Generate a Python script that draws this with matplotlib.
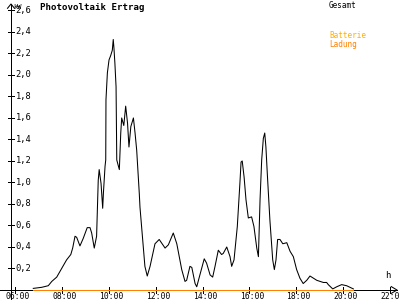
import matplotlib
matplotlib.use('Agg')
import matplotlib.pyplot as plt

# hours of day and power in kW
gesamt_h = [6.78, 7.14, 7.42, 7.57, 7.78, 7.99, 8.20, 8.38, 8.46, 8.56, 8.63, 8.77,
            8.91, 9.08, 9.20, 9.27, 9.38, 9.48, 9.55, 9.59, 9.67, 9.74, 9.77, 9.84,
            9.87, 9.88, 9.94, 10.01, 10.08, 10.15, 10.19, 10.22, 10.26, 10.31, 10.34,
            10.40, 10.45, 10.51, 10.55, 10.64, 10.72, 10.80, 10.86, 10.94, 11.05, 11.12,
            11.19, 11.30, 11.33, 11.54, 11.64, 11.76, 11.97, 12.15, 12.40, 12.54, 12.75,
            12.90, 13.11, 13.25, 13.32, 13.46, 13.54, 13.68, 13.75, 13.86, 14.07, 14.17,
            14.32, 14.43, 14.53, 14.67, 14.81, 14.88, 15.03, 15.17, 15.24, 15.34, 15.48,
            15.59, 15.64, 15.69, 15.77, 15.85, 15.95, 16.09, 16.19, 16.31, 16.38, 16.45,
            16.52, 16.59, 16.65, 16.70, 16.76, 16.87, 16.99, 17.06, 17.13, 17.20, 17.30,
            17.42, 17.59, 17.73, 17.87, 18.01, 18.15, 18.29, 18.44, 18.58, 18.87, 19.15,
            19.29, 19.36, 19.55, 19.72, 19.93, 20.14, 20.43]
gesamt_kw = [0.015, 0.025, 0.04, 0.08, 0.12, 0.20, 0.28, 0.33, 0.39, 0.50, 0.49, 0.41,
             0.48, 0.58, 0.58, 0.53, 0.39, 0.50, 1.02, 1.12, 0.99, 0.76, 0.90, 1.15,
             1.21, 1.77, 2.02, 2.14, 2.18, 2.23, 2.33, 2.25, 2.11, 1.89, 1.21,
             1.16, 1.12, 1.46, 1.60, 1.53, 1.71, 1.55, 1.33, 1.52, 1.60, 1.46,
             1.30, 0.90, 0.77, 0.22, 0.13, 0.22, 0.43, 0.47, 0.39, 0.42, 0.53,
             0.43, 0.19, 0.08, 0.09, 0.22, 0.21, 0.06, 0.03, 0.12, 0.29, 0.25,
             0.14, 0.12, 0.22, 0.37, 0.33, 0.34, 0.40, 0.31, 0.22, 0.28, 0.59,
             0.99, 1.19, 1.20, 1.05, 0.84, 0.67, 0.68, 0.59, 0.39, 0.31, 0.84,
             1.21, 1.41, 1.46, 1.33, 1.08, 0.65, 0.28, 0.19, 0.28, 0.47, 0.47,
             0.43, 0.44, 0.36, 0.31, 0.19, 0.11, 0.06, 0.09, 0.13, 0.09, 0.07,
             0.07, 0.05, 0.01, 0.03, 0.05, 0.04, 0.01]
ladung_h = [6.78, 20.43]
ladung_kw = [0.0, 0.0]

x_ticks = [6, 8, 10, 12, 14, 16, 18, 20, 22]
x_labels = ['06:00', '08:00', '10:00', '12:00', '14:00', '16:00', '18:00', '20:00', '22:00']
y_ticks = [0.2, 0.4, 0.6, 0.8, 1.0, 1.2, 1.4, 1.6, 1.8, 2.0, 2.2, 2.4, 2.6]
y_labels = ['0,2', '0,4', '0,6', '0,8', '1,0', '1,2', '1,4', '1,6', '1,8', '2,0', '2,2', '2,4', '2,6']

mono = 'DejaVu Sans Mono'
LW = 0.7   # crisp one-pixel lines
CLW = 0.75 # curve

fig = plt.figure(figsize=(4, 3), dpi=100)
fig.patch.set_facecolor('white')
ax = fig.add_axes([11 / 400, 10 / 300, 386 / 400, 286 / 300])
ax.set_xlim(5.83, 22.29)
ax.set_ylim(0, 2.66)
ax.axis('off')

# axes lines, a bit past the origin like the original
ax.plot([-0.03, 1.0], [0, 0], transform=ax.transAxes, color='black', lw=LW,
        clip_on=False, antialiased=False)
ax.plot([0, 0], [-0.035, 1.0], transform=ax.transAxes, color='black', lw=LW,
        clip_on=False, antialiased=False)
ax.plot([0.985, 1.0, 0.985], [0.012, 0, -0.012], transform=ax.transAxes,
        color='black', lw=CLW, clip_on=False)
ax.plot([-0.009, 0, 0.009], [0.985, 1.0, 0.985], transform=ax.transAxes,
        color='black', lw=CLW, clip_on=False)

# ticks and labels
xt = ax.get_xaxis_transform()
yt = ax.get_yaxis_transform()
for h, lab in zip(x_ticks, x_labels):
    ax.plot([h, h], [-0.01, 0.01], transform=xt, color='black', lw=LW,
            clip_on=False, antialiased=False)
    ax.text(h + 0.1, -0.021, lab, transform=xt, ha='center', va='center',
            fontsize=5.8, family=mono, color='black')
for v, lab in zip(y_ticks, y_labels):
    ax.plot([-0.008, 0.008], [v, v], transform=yt, color='black', lw=LW,
            clip_on=False, antialiased=False)
    ax.text(0.012, v, lab, transform=yt, ha='left', va='center',
            fontsize=6.3, family=mono, color='black')
ax.text(0.006, 1.0, 'kW', transform=ax.transAxes, ha='left', va='top',
        fontsize=5, family=mono, color='black')
ax.text(0.975, 0.035, 'h', transform=ax.transAxes, ha='center', va='bottom',
        fontsize=6.5, family=mono, color='black')

# series
ax.plot(ladung_h, ladung_kw, color='#ff8000', lw=LW, clip_on=False,
        antialiased=False, zorder=3)
ax.plot(gesamt_h, gesamt_kw, color='black', lw=CLW, zorder=2)

# title and legend
fig.text(40 / 400, 1 - 7 / 300, 'Photovoltaik Ertrag', ha='left', va='center',
         fontsize=6.6, family=mono, weight='bold', color='black')
fig.text(329 / 400, 1 - 5 / 300, 'Gesamt', ha='left', va='center',
         fontsize=5.5, family=mono, color='black')
fig.text(329 / 400, 1 - 36 / 300, 'Batterie', ha='left', va='center',
         fontsize=5.5, family=mono, color='#ffb000')
fig.text(329 / 400, 1 - 44 / 300, 'Ladung', ha='left', va='center',
         fontsize=5.5, family=mono, color='#ff8000')

fig.savefig('out.png', dpi=100)
